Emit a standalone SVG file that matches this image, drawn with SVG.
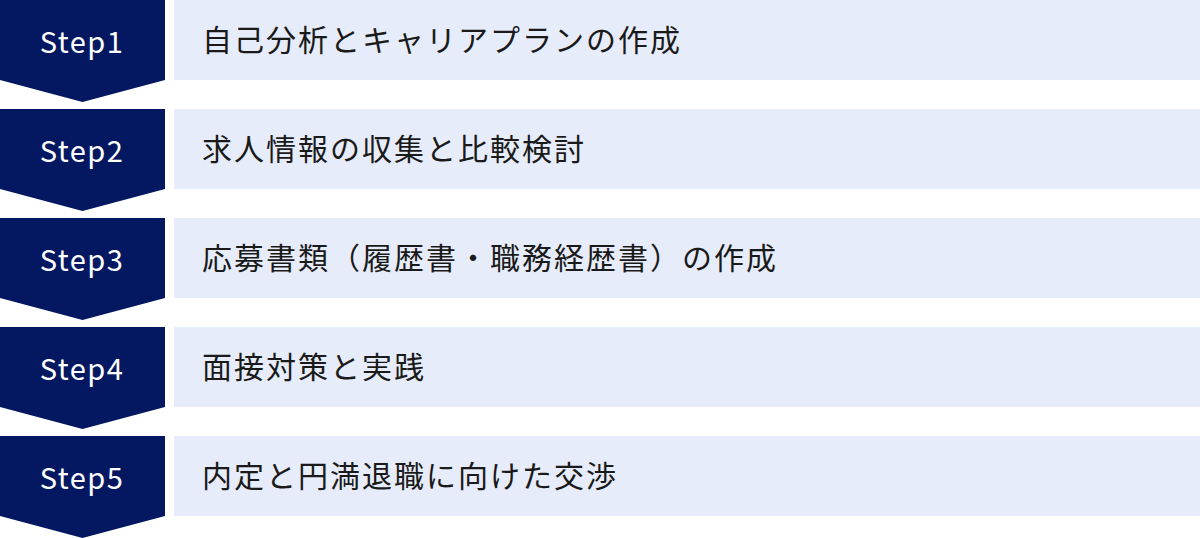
<svg xmlns="http://www.w3.org/2000/svg" width="1200" height="538" viewBox="0 0 1200 538">
<style>
.chev{fill:#041862}
.bar{fill:#E6ECF9}
.st{font-family:"Noto Sans CJK JP","Noto Sans",sans-serif;font-size:29px;fill:#ffffff;text-anchor:middle;letter-spacing:1.5px}
.lb{font-family:"Noto Sans CJK JP",sans-serif;font-size:30px;fill:#1a1a1a;letter-spacing:2px}
</style>
<defs>
<path id="chv" d="M0 0 H165 V80 L82.5 102 L0 80 Z"/>
</defs>
<g id="connectors"></g>
<g id="step1">
<use href="#chv" class="chev"/>
<rect class="bar" x="174" y="0" width="1026" height="80"/>
<text class="st" x="82" y="53">Step1</text>
<text class="lb" x="202" y="51">自己分析とキャリアプランの作成</text>
</g>
<g id="step2" transform="translate(0,109)">
<use href="#chv" class="chev"/>
<rect class="bar" x="174" y="0" width="1026" height="80"/>
<text class="st" x="82" y="53">Step2</text>
<text class="lb" x="202" y="51">求人情報の収集と比較検討</text>
</g>
<g id="step3" transform="translate(0,218)">
<use href="#chv" class="chev"/>
<rect class="bar" x="174" y="0" width="1026" height="80"/>
<text class="st" x="82" y="53">Step3</text>
<text class="lb" x="202" y="51">応募書類（履歴書・職務経歴書）の作成</text>
</g>
<g id="step4" transform="translate(0,327)">
<use href="#chv" class="chev"/>
<rect class="bar" x="174" y="0" width="1026" height="80"/>
<text class="st" x="82" y="53">Step4</text>
<text class="lb" x="202" y="51">面接対策と実践</text>
</g>
<g id="step5" transform="translate(0,436)">
<use href="#chv" class="chev"/>
<rect class="bar" x="174" y="0" width="1026" height="80"/>
<text class="st" x="82" y="53">Step5</text>
<text class="lb" x="202" y="51">内定と円満退職に向けた交渉</text>
</g>
</svg>
